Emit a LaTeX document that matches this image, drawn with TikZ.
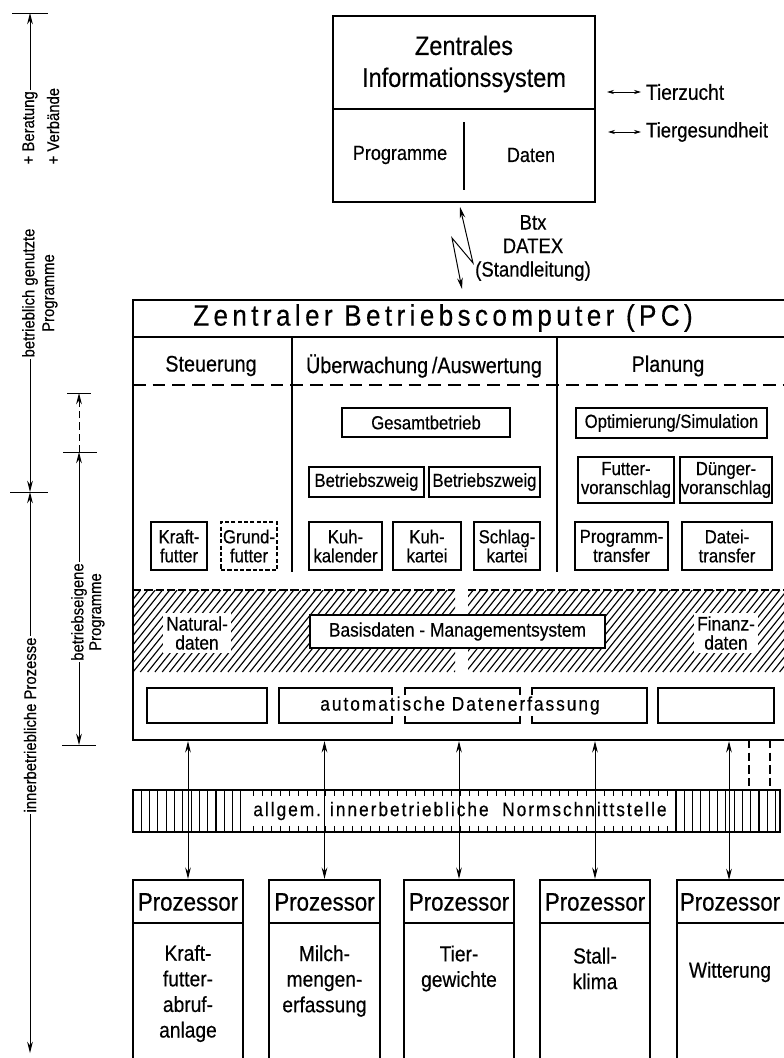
\documentclass[tikz,border=0pt]{standalone}
\usepackage{fontspec}
\setmainfont{Liberation Sans}[FakeStretch=0.88,FakeBold=0.4]
\newfontfamily\spacedfont{Liberation Sans}[FakeStretch=0.88,FakeBold=0.4,LetterSpace=10]
\newfontfamily\titlefont{Liberation Sans}[FakeStretch=0.88,FakeBold=0.4,LetterSpace=15]
\usetikzlibrary{arrows.meta}
\newcommand{\fsz}[2]{\fontsize{#1pt}{#2pt}\selectfont}

\tikzset{
	x=0.025cm, y=-0.025cm,
	dims/.style 2 args={minimum width=#1*0.025cm, minimum height=#2*0.025cm, inner sep=0pt},
	arr/.style={-{Stealth[length=8pt,width=4pt]}, line width=0.7pt},
	dblarr/.style={{Stealth[length=8pt,width=4pt]}-{Stealth[length=8pt,width=4pt]}, line width=0.7pt},
	smallarr/.style={{Stealth[length=5pt,width=3pt]}-{Stealth[length=5pt,width=3pt]}, line width=0.7pt},
	sbox/.style 2 args={draw, line width=0.9pt, dims={#1}{#2}, align=center, font=\fsz{13.5}{13.5}},
	head/.style={font=\fsz{16}{16}},
	proz/.style={font=\fsz{18}{20}},
	prozbody/.style={font=\fsz{15.5}{18.2}, align=center},
	side/.style={font=\fsz{12}{13}, inner sep=1pt},
	thickline/.style={line width=1.7pt}
}

\begin{document}
\begin{tikzpicture}
	\path[fill=white, use as bounding box] (0,0) rectangle (783,1058);

	% Zentrales Informationssystem
	\node[draw, line width=1.4pt, dims={262}{186}] (zis) at (464,109) {};
	\coordinate (zdiv) at (0,109);
	\draw[line width=1.4pt] (zis.west |- zdiv) -- (zis.east |- zdiv);
	\draw[line width=1.4pt] (464,122) -- (464,190);
	\node[font=\fsz{19}{22.7}, align=center] (zistxt) at (464,64) {Zentrales\\Informationssystem};
	\node[font=\fsz{14.6}{16}] (prog) at (400,155) {Programme};
	\node[font=\fsz{14.6}{16}] (dat) at (531,155) {Daten};

	\node[font=\fsz{15.5}{16}, anchor=west] (tz) at (641,92) {Tierzucht};
	\node[font=\fsz{15}{16}, anchor=west] (tg) at (641,132) {Tiergesundheit};
	\coordinate (tzl) at (607,92);
	\coordinate (tgl) at (608,132);
	\draw[smallarr] (tzl) -- (tz.west);
	\draw[smallarr] (tgl) -- (tg.west);

	\coordinate (zz1) at (460,207);
	\coordinate (zz2) at (473,263);
	\coordinate (zz3) at (452,238);
	\coordinate (zz4) at (462,289);
	\draw[dblarr] (zz1) -- (zz2) -- (zz3) -- (zz4);
	\node[font=\fsz{15}{16.7}, align=center] (btx) at (533,248) {Btx\\DATEX\\(Standleitung)};

	% Zentraler Betriebscomputer
	\node[draw, thickline, dims={655}{440}] (pc) at (460.5,520) {};
	\coordinate (ttl) at (0,337);
	\draw[line width=1.5pt] (pc.west |- ttl) -- (pc.east |- ttl);
	\node[font={\titlefont\fsz{21}{22}}] (pctitle) at (443,318) {Zentraler Betriebscomputer (PC)};
	\node[head] (steu) at (211,366) {Steuerung};
	\node[head] (ueb) at (424,366) {Überwachung\,/Auswertung};
	\node[head] (plan) at (668,366) {Planung};
	\draw[line width=1pt, dash pattern=on 9pt off 5pt] (133,385) -- (790,385);
	\draw[line width=1pt] (292,337) -- (292,572);
	\draw[line width=1pt] (557,337) -- (557,572);

	\node[sbox={168}{29}] (gesamt) at (426,422.5) {Gesamtbetrieb};
	\node[sbox={191}{30}] (opti) at (671.5,423) {Optimierung/Simulation};
	\node[sbox={115}{30}] (bz1) at (366.5,482) {Betriebszweig};
	\node[sbox={111}{30}] (bz2) at (484.5,482) {Betriebszweig};
	\node[sbox={96}{46}] (futt) at (626,480) {Futter-\\voranschlag};
	\node[sbox={92}{46}] (dueng) at (726,480) {Dünger-\\voranschlag};

	\node[sbox={56}{48}] (kraft) at (179,546) {Kraft-\\futter};
	\node[sbox={56}{48}, dash pattern=on 3pt off 1.5pt] (grund) at (249,546) {Grund-\\futter};
	\node[sbox={73}{48}] (kuhkal) at (345.5,546) {Kuh-\\kalender};
	\node[sbox={68}{48}] (kuhkar) at (427,546) {Kuh-\\kartei};
	\node[sbox={66}{48}] (schlag) at (507,546) {Schlag-\\kartei};
	\node[sbox={93}{48}] (progtr) at (621.5,546) {Programm-\\transfer};
	\node[sbox={90}{48}] (dattr) at (727,546) {Datei-\\transfer};

	% Basisdaten
	\begin{scope}
		\clip (133,590) rectangle (455,672);
		\foreach \i in {60,67.3,...,460} \draw[line width=0.8pt] (\i,672) -- ++(66,-82);
	\end{scope}
	\begin{scope}
		\clip (468,590) rectangle (790,672);
		\foreach \i in {400,407.3,...,795} \draw[line width=0.8pt] (\i,672) -- ++(66,-82);
	\end{scope}
	\draw[line width=1.1pt, dash pattern=on 6pt off 2pt] (133,590) -- (455,590);
	\draw[line width=1.1pt, dash pattern=on 6pt off 2pt] (468,590) -- (790,590);
	\node[font=\fsz{14}{13.5}, fill=white, inner sep=2pt, align=center] (nat) at (197,633) {Natural-\\daten};
	\node[font=\fsz{14}{13.5}, fill=white, inner sep=2pt, align=center] (fin) at (726,633) {Finanz-\\daten};
	\node[draw, fill=white, line width=1pt, dims={295}{33}, font=\fsz{14}{14}] (bdm) at (457.5,631.5) {Basisdaten - Managementsystem};

	% automatische Datenerfassung
	\node[draw, line width=1.1pt, dims={120}{35}] (de1) at (207,705.5) {};
	\node[draw, line width=1.1pt, dims={116}{35}] (de5) at (716,705.5) {};
	\draw[line width=1.1pt] (392,695) -- (392,688) -- (279,688) -- (279,723) -- (392,723) -- (392,716);
	\draw[line width=1.1pt] (405,695) -- (405,688) -- (520,688) -- (520,695);
	\draw[line width=1.1pt] (405,716) -- (405,723) -- (520,723) -- (520,716);
	\draw[line width=1.1pt] (532,695) -- (532,688) -- (647,688) -- (647,723) -- (532,723) -- (532,716);
	\node[font={\spacedfont\fsz{14}{14}}] (autod) at (460,705.5) {automatische Datenerfassung};

	% Normschnittstelle
	\node[draw, line width=1.6pt, dims={647}{42}] (ns) at (456.5,811) {};
	\foreach \x in {141.3,149.6,...,248} \draw[line width=0.8pt] (\x,790) -- (\x,832);
	\foreach \x in {676,684.3,...,777} \draw[line width=0.8pt] (\x,790) -- (\x,832);
	\foreach \x in {253,262,...,668} {
		\draw[line width=0.7pt] (\x,790) -- ++(0,6);
		\draw[line width=0.7pt] (\x,832) -- ++(0,-6);
	}
	\node[font={\spacedfont\fsz{14}{14}}] (nstxt) at (460,811) {allgem. innerbetriebliche\ \ Normschnittstelle};
	\draw[line width=1pt, dash pattern=on 6pt off 3pt] (749,740) -- (749,790);
	\draw[line width=1pt, dash pattern=on 6pt off 3pt] (770,740) -- (770,790);

	% Prozessoren
	\coordinate (hdr) at (0,923);
	\node[draw, thickline, dims={110}{195}] (p1) at (188,977.5) {};
	\node[draw, thickline, dims={111}{195}] (p2) at (324.5,977.5) {};
	\node[draw, thickline, dims={110}{195}] (p3) at (459,977.5) {};
	\node[draw, thickline, dims={110}{195}] (p4) at (595,977.5) {};
	\node[draw, thickline, dims={109}{195}] (p5) at (731.5,977.5) {};
	\draw[thickline] (p1.west |- hdr) -- (p1.east |- hdr);
	\draw[thickline] (p2.west |- hdr) -- (p2.east |- hdr);
	\draw[thickline] (p3.west |- hdr) -- (p3.east |- hdr);
	\draw[thickline] (p4.west |- hdr) -- (p4.east |- hdr);
	\draw[thickline] (p5.west |- hdr) -- (p5.east |- hdr);
	\node[proz] (ph1) at (188,902) {Prozessor};
	\node[proz] (ph2) at (324.5,902) {Prozessor};
	\node[proz] (ph3) at (459,902) {Prozessor};
	\node[proz] (ph4) at (595,902) {Prozessor};
	\node[proz] (ph5) at (730,902) {Prozessor};
	\node[prozbody] (pb1) at (188,993.5) {Kraft-\\futter-\\abruf-\\anlage};
	\node[prozbody] (pb2) at (324.5,981) {Milch-\\mengen-\\erfassung};
	\node[prozbody] (pb3) at (459,968.5) {Tier-\\gewichte};
	\node[prozbody] (pb4) at (595,968.5) {Stall-\\klima};
	\node[prozbody] (pb5) at (730,972) {Witterung};

	\draw[dblarr] (p1.north) -- (p1.north |- pc.south);
	\draw[dblarr] (p2.north) -- (p2.north |- pc.south);
	\draw[dblarr] (p3.north) -- (p3.north |- pc.south);
	\draw[dblarr] (p4.north) -- (p4.north |- pc.south);
	\coordinate (a5) at (729,880);
	\draw[dblarr] (a5) -- (a5 |- pc.south);

	% Bereiche links
	\coordinate (ttop) at (30,13);
	\coordinate (tmid) at (30,492);
	\coordinate (tbot) at (30,1053);
	\draw[line width=0.7pt] (12,13) -- (48,13);
	\draw[line width=0.7pt] (10,492) -- (48,492);
	\node[side, rotate=90, anchor=west] (ber) at (30,166) {+ Beratung};
	\node[side, rotate=90, anchor=west] (verb) at (53,166) {+ Verbände};
	\draw[arr] (ber.east) -- (ttop);
	\node[side, rotate=90] (bgn) at (30,293) {betrieblich genutzte};
	\node[side, rotate=90] (bgp) at (50,293) {Programme};
	\draw[arr] (bgn.west) -- (tmid);
	\node[side, rotate=90] (ibp) at (30,725) {innerbetriebliche Prozesse};
	\draw[arr] (ibp.east) -- (tmid);
	\draw[arr] (ibp.west) -- (tbot);

	\coordinate (itop) at (79,393);
	\coordinate (imid) at (79,452);
	\coordinate (ibot) at (79,745);
	\draw[line width=0.7pt] (67,393) -- (91,393);
	\draw[line width=0.7pt] (63,452) -- (97,452);
	\draw[line width=0.7pt] (62,745) -- (96,745);
	\draw[arr, dash pattern=on 5pt off 3pt] (imid) -- (itop);
	\node[side, rotate=90] (beg) at (79,612) {betriebseigene};
	\node[side, rotate=90] (begp) at (97,612) {Programme};
	\draw[arr] (beg.east) -- (imid);
	\draw[arr] (beg.west) -- (ibot);
\end{tikzpicture}
\end{document}
